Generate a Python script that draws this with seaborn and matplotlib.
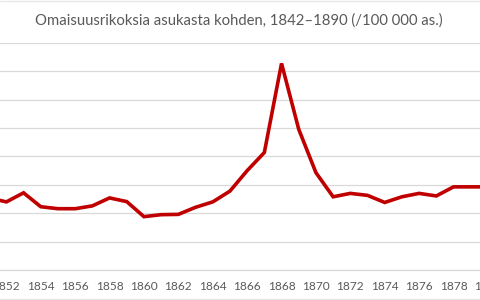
import matplotlib
matplotlib.use("Agg")
import matplotlib.pyplot as plt
import matplotlib.lines as mlines
import matplotlib.transforms as mtransforms
import seaborn as sns
import pandas as pd
import numpy as np

title = "Omaisuusrikoksia asukasta kohden, 1842–1890 (/100 000 as.)"
years = list(range(1851, 1881))
values = [25.4, 24.0, 27.2, 22.3, 21.6, 21.6, 22.6, 25.4, 24.1, 18.8,
          19.5, 19.6, 22.1, 24.0, 27.8, 35.0, 41.4, 72.8, 49.6, 34.3,
          25.8, 27.0, 26.3, 23.8, 25.8, 27.0, 26.1, 29.3, 29.3, 29.3]
label_years = list(range(1852, 1882, 2))

sns.set_style("white")
plt.rcParams['font.family'] = ['Lato', 'DejaVu Sans']

df = pd.DataFrame({"year": years, "value": values})

fig = plt.figure(figsize=(4.8, 3.0), dpi=100)
ax = fig.add_axes([0, 0.1, 1, 0.7567])

sns.lineplot(data=df, x="year", y="value", ax=ax, color="#C00000",
             linewidth=2.6, solid_joinstyle="miter")

XMIN, XMAX = 1851.63, 1879.54
ax.set_ylim(0, 80)
ax.set_yticks(np.arange(0, 81, 10))
ax.grid(axis="y", color="#d9d9d9", linewidth=0.9)
ax.grid(axis="x", visible=False)
ax.set_axisbelow(True)

for s in ["top", "left", "right"]:
    ax.spines[s].set_visible(False)
ax.spines["bottom"].set_color("#d9d9d9")
ax.spines["bottom"].set_linewidth(0.9)

ax.set_xticks(label_years)
ax.set_xticklabels([str(y) for y in label_years], fontsize=8.6, color="#595959")
ax.set_xticks(years, minor=True)
ax.set_xlim(XMIN, XMAX)
ax.tick_params(axis="x", which="both", direction="in", length=3, color="#c8c8c8",
               width=0.7, pad=8)
ax.tick_params(axis="y", left=False, labelleft=False)
ax.set_xlabel("")
ax.set_ylabel("")

# labels whose ticks fall just past the right edge (partly visible in the crop)
trans = mtransforms.blended_transform_factory(ax.transData, ax.transAxes)
for y in label_years:
    if y > XMAX:
        ax.annotate(str(y), xy=(y, 0), xycoords=trans, xytext=(0, -8),
                    textcoords="offset points", ha="center", va="top",
                    fontsize=8.6, color="#595959", annotation_clip=False)

fig.text(0.498, 0.933, title, ha="center", va="center", fontsize=10.7, color="#595959")

fig.add_artist(mlines.Line2D([0, 1], [0.997, 0.997], color="#e6e6e6", linewidth=0.9,
                             transform=fig.transFigure))
fig.add_artist(mlines.Line2D([0, 1], [0.004, 0.004], color="#e6e6e6", linewidth=0.9,
                             transform=fig.transFigure))

fig.savefig("out.png", dpi=100)
